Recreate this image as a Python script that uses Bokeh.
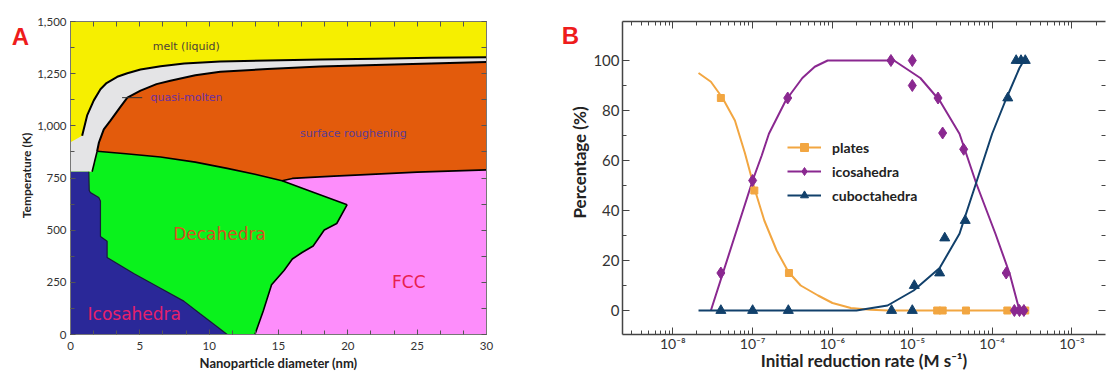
import math
from bokeh.plotting import figure
from bokeh.models import (Range1d, FixedTicker, LinearAxis, LogAxis, Label, Legend,
                          LegendItem, CustomJSTickFormatter, NumeralTickFormatter,
                          CustomLabelingPolicy)
from bokeh.core.properties import value
from bokeh.layouts import row
from bokeh.embed import file_html
from bokeh.resources import INLINE

# ---------------- Panel A data (phase boundaries, x in nm, T in K) ----------------
gray_edge_x = [0.0, 0.84]
gray_edge_T = [921, 952]

melt_x = [0.84, 1.2, 1.68, 2.16, 2.6, 3.37, 4.1, 5.05, 6.5, 8.2, 10.8, 14.2, 18.0, 22.0, 26.0, 30.0]
melt_T = [952, 1050, 1122, 1175, 1205, 1235, 1252, 1270, 1286, 1299, 1308, 1313, 1318, 1322, 1326, 1329]

quasi_x = [1.92, 2.05, 2.16, 2.4, 2.88, 3.6, 4.1, 5.05, 6.2, 7.2, 9.0, 10.8, 14.2, 18.0, 22.0, 26.0, 30.0]
quasi_T = [878, 920, 940, 983, 1025, 1091, 1135, 1169, 1200, 1216, 1242, 1259, 1272, 1284, 1292, 1299, 1306]

green_top_x = [1.92, 4.0, 6.49, 9.0, 11.3, 13.3, 15.26, 17.5, 19.95]
green_top_T = [878, 866, 851, 826, 796, 768, 737, 682, 622]

green_right_x = [19.95, 19.2, 18.3, 17.5, 16.7, 16.0, 15.4, 14.5, 13.9, 13.3]
green_right_T = [622, 532, 501, 424, 393, 362, 307, 238, 113, 0]

green_left_x = [1.92, 1.56]
green_left_T = [878, 780]

fcc_top_x = [15.26, 16.0, 17.3, 19.0, 20.9, 25.0, 30.0]
fcc_top_T = [737, 748, 753, 759, 765, 778, 789]

ico_x = [0.0, 1.32, 1.35, 1.44, 2.04, 2.16, 2.16, 2.64, 2.64, 4.56, 6.49, 8.17, 9.37, 10.6, 11.3]
ico_T = [780, 780, 690, 680, 657, 640, 470, 447, 369, 292, 222, 160, 98, 36, 0]

pointer_x = [3.72, 5.17]
pointer_T = [1135, 1135]

a_xticks = [0, 5, 10, 15, 20, 25, 30]
a_xminor = [i * 5.0 / 3.0 for i in range(19)]
a_yticks = [0, 250, 500, 750, 1000, 1250, 1500]
a_yminor = [i * 125 for i in range(13)]

# ---------------- Panel B data ----------------
plates_x = [4e-8, 1.05e-7, 2.85e-7, 2.05e-5, 2.4e-5, 4.7e-5, 1.55e-4, 2.6e-4]
plates_y = [85, 48, 15, 0, 0, 0, 0, 0]
plates_fit_x = [2.1e-8, 3e-8, 4.2e-8, 6e-8, 8e-8, 1.05e-7, 1.4e-7, 2e-7, 2.8e-7, 4e-7,
                6.6e-7, 1e-6, 1.7e-6, 3e-6, 5e-6, 2.7e-4]
plates_fit_y = [95, 91.5, 85, 76, 63, 49, 36, 24, 15.5, 10, 6, 3, 1, 0.3, 0, 0]

ico_pts_x = [4e-8, 1e-7, 2.75e-7, 5.4e-6, 1e-5, 1e-5, 2.1e-5, 2.4e-5, 4.4e-5, 1.5e-4,
             1.9e-4, 2.2e-4, 2.5e-4]
ico_pts_y = [15, 52, 85, 100, 100, 90, 85, 71, 64.5, 15, 0, 0, 0]
ico_fit_x = [3e-8, 1e-7, 1.3e-7, 1.6e-7, 2.6e-7, 4.2e-7, 6e-7, 8.7e-7, 5.9e-6, 1.26e-5,
             2.2e-5, 3.9e-5, 6.3e-5, 1.1e-4, 1.66e-4, 2.2e-4]
ico_fit_y = [0, 52, 62, 70.7, 84, 93, 97.5, 100, 100, 93, 84, 70.7, 51, 30.7, 14.7, 0]

cubo_x = [4e-8, 1e-7, 2.8e-7, 5.5e-6, 1e-5, 1.06e-5, 2.2e-5, 2.55e-5, 4.6e-5, 1.57e-4,
          2e-4, 2.3e-4, 2.6e-4]
cubo_y = [0, 0, 0, 0, 0, 10, 15, 29, 36, 85, 100, 100, 100]
cubo_fit_x = [2.1e-8, 1e-6, 2e-6, 4.9e-6, 1.04e-5, 2.2e-5, 3.9e-5, 6.3e-5, 1e-4, 1.47e-4,
              2.2e-4, 2.5e-4]
cubo_fit_y = [0, 0, 0, 2, 8, 17, 30.7, 51, 70.7, 84, 97, 100]

b_xticks = [1e-8, 1e-7, 1e-6, 1e-5, 1e-4, 1e-3]
b_xminor = [k * 10.0 ** n for n in range(-9, -2) for k in range(2, 10)]
b_yticks = [0, 20, 40, 60, 80, 100]
b_yminor = [10, 30, 50, 70, 90]

NO_LABELS = "for (const i of indices) { indices.unset(i) }\nreturn indices"
H = 374
TOP = 21      # shared frame top border (px)
BOT = 40      # shared frame bottom border (px)


def side_strip(w):
    # strip whose (aligned) frame maps y = H - page_y
    s = figure(width=w, height=H, x_range=Range1d(0, w), y_range=Range1d(BOT, H - TOP),
               x_axis_location=None, y_axis_location=None, min_border_left=0,
               min_border_right=0, min_border_top=TOP, min_border_bottom=BOT,
               output_backend="svg", toolbar_location=None)
    s.outline_line_color = None
    s.grid.visible = False
    return s


# ---------------- strip left of panel A: panel letter + y title ----------------
sA = side_strip(34)
sA.text(x=[20], y=[H - 36], text=["A"], text_font=value("Liberation Sans"),
        text_font_size=value("24px"), text_font_style="bold", text_color="#ee1c1c",
        text_align="center", text_baseline="middle")
sA.text(x=[26], y=[H - 175], text=["Temperature (K)"], angle=math.pi / 2,
        text_font=value("Lato"), text_font_size=value("12px"), text_font_style="bold",
        text_color="#222222", text_align="center", text_baseline="middle")

# ---------------- Panel A ----------------
YELLOW = "#f6ef00"
GRAY = "#e4e4e6"
ORANGE = "#e35b0c"
PINK = "#fd8dfb"
GREEN = "#0af21c"
BLUE = "#2a2898"

pA = figure(width=494, height=H, x_range=Range1d(0, 30), y_range=Range1d(0, 1500),
            output_backend="svg", toolbar_location=None,
            min_border_left=36, min_border_right=42, min_border_top=TOP, min_border_bottom=BOT)
xaA = pA.xaxis[0]
yaA = pA.yaxis[0]
pA.background_fill_color = YELLOW
pA.outline_line_color = "#777777"
pA.grid.visible = False

gx = gray_edge_x + melt_x[1:] + quasi_x[::-1] + [1.56, 0.0]
gT = gray_edge_T + melt_T[1:] + quasi_T[::-1] + [780, 780]
pA.patch(gx, gT, fill_color=GRAY, line_color=None)
ox = quasi_x + fcc_top_x[::-1] + green_top_x[:7][::-1]
oT = quasi_T + fcc_top_T[::-1] + green_top_T[:7][::-1]
pA.patch(ox, oT, fill_color=ORANGE, line_color=None)
px_ = fcc_top_x + [30.0] + green_right_x[::-1] + green_top_x[6:][::-1]
pT_ = fcc_top_T + [0] + green_right_T[::-1] + green_top_T[6:][::-1]
pA.patch(px_, pT_, fill_color=PINK, line_color=None)
dx = green_top_x + green_right_x[1:] + [0.0, 0.0, 1.56]
dT = green_top_T + green_right_T[1:] + [0, 780, 780]
pA.patch(dx, dT, fill_color=GREEN, line_color=None)
pA.patch(ico_x + [0.0], ico_T + [0], fill_color=BLUE, line_color=None)

pA.line(melt_x, melt_T, line_color="black", line_width=2)
pA.line(quasi_x, quasi_T, line_color="black", line_width=2)
pA.line(green_top_x, green_top_T, line_color="black", line_width=1.6)
pA.line(green_right_x, green_right_T, line_color="black", line_width=1.6)
pA.line(fcc_top_x, fcc_top_T, line_color="black", line_width=1.6)
pA.line(green_left_x, green_left_T, line_color="black", line_width=1.6)
pA.line(ico_x[1:], ico_T[1:], line_color="#1a1a3a", line_width=1.2)
pA.line(pointer_x, pointer_T, line_color="#333333", line_width=1)

region_labels = [
    ("melt (liquid)", 8.35, 1379, "11px", "#4d4535", "center"),
    ("quasi-molten", 5.77, 1135, "11px", "#6b2fa0", "left"),
    ("surface roughening", 20.4, 964, "11px", "#5b3b94", "center"),
    ("Decahedra", 10.75, 483, "17px", "#d9501f", "center"),
    ("Icosahedra", 4.6, 98, "17px", "#e6206a", "center"),
    ("FCC", 24.4, 253, "17px", "#e8204e", "center"),
]
for txt, x, y, fs, col, al in region_labels:
    pA.add_layout(Label(x=x, y=y, text=txt, text_font="DejaVu Sans", text_font_size=fs,
                        text_color=col, text_align=al, text_baseline="middle"))

xaA.ticker = FixedTicker(ticks=a_xticks, minor_ticks=a_xminor)
yaA.ticker = FixedTicker(ticks=a_yticks, minor_ticks=a_yminor)
yaA.formatter = NumeralTickFormatter(format="0,0")
xaA.axis_label = "Nanoparticle diameter (nm)"

topA = LinearAxis(ticker=FixedTicker(ticks=a_xminor, minor_ticks=[]),
                  major_label_policy=CustomLabelingPolicy(code=NO_LABELS),
                  major_label_text_font_size="1px", major_label_standoff=0)
rightA = LinearAxis(ticker=FixedTicker(ticks=a_yminor, minor_ticks=[]),
                    major_label_policy=CustomLabelingPolicy(code=NO_LABELS),
                    major_label_text_font_size="1px", major_label_standoff=0)
pA.add_layout(topA, "above")
pA.add_layout(rightA, "right")
for ax in [xaA, yaA, topA, rightA]:
    ax.axis_line_color = "#777777"
    ax.major_tick_line_color = "#555555"
    ax.minor_tick_line_color = "#555555"
    ax.major_tick_out = 0
    ax.major_tick_in = 5
    ax.minor_tick_out = 0
    ax.minor_tick_in = 4
    ax.major_label_text_font = "Lato"
    ax.major_label_text_color = "#333333"
    ax.axis_label_text_font = "Lato"
    ax.axis_label_text_font_style = "bold"
    ax.axis_label_text_font_size = "13px"
    ax.axis_label_text_color = "#222222"
xaA.major_label_text_font_size = "11.5px"
yaA.major_label_text_font_size = "11.5px"
xaA.major_label_standoff = 7
xaA.axis_label_standoff = 2
yaA.major_label_standoff = 4

# ---------------- strip left of panel B: panel letter + y title ----------------
sB = side_strip(62)
sB.text(x=[42], y=[H - 35], text=["B"], text_font=value("Liberation Sans"),
        text_font_size=value("24px"), text_font_style="bold", text_color="#ee1c1c",
        text_align="center", text_baseline="middle")
sB.text(x=[51], y=[H - 162], text=["Percentage (%)"], angle=math.pi / 2,
        text_font=value("Lato"), text_font_size=value("17px"), text_font_style="bold",
        text_color="#222222", text_align="center", text_baseline="middle")

# ---------------- Panel B ----------------
C_PL = "#f2a641"
C_IC = "#8a2890"
C_CU = "#11406b"

pB = figure(width=520, height=H, x_axis_type="log",
            x_range=Range1d(10 ** -8.63, 10 ** -2.58), y_range=Range1d(-9.6, 115.6),
            output_backend="svg", toolbar_location=None,
            min_border_left=28, min_border_right=2, min_border_top=TOP, min_border_bottom=BOT)
xaB = pB.xaxis[0]
yaB = pB.yaxis[0]
pB.outline_line_color = None
pB.grid.visible = False

r1l = pB.line(plates_fit_x, plates_fit_y, line_color=C_PL, line_width=2)
r2l = pB.line(ico_fit_x, ico_fit_y, line_color=C_IC, line_width=2)
r3l = pB.line(cubo_fit_x, cubo_fit_y, line_color=C_CU, line_width=2)
r1p = pB.scatter(plates_x, plates_y, marker="square", size=7, color=C_PL)
r3p = pB.scatter(cubo_x, cubo_y, marker="triangle", size=10, color=C_CU)
r2p = pB.scatter(ico_pts_x, ico_pts_y, marker="diamond", size=12, color=C_IC)

legend = Legend(items=[LegendItem(label="plates", renderers=[r1l, r1p]),
                       LegendItem(label="icosahedra", renderers=[r2l, r2p]),
                       LegendItem(label="cuboctahedra", renderers=[r3l, r3p])],
                location=(165, 129), padding=0, margin=0, border_line_color=None,
                background_fill_alpha=0, glyph_width=34, glyph_height=20, label_height=20,
                spacing=4, label_standoff=11, label_text_font="Lato",
                label_text_font_style="bold", label_text_font_size="14px",
                label_text_color="#222222")
pB.add_layout(legend)

sup_js = """
const e = Math.round(Math.log10(tick));
const m = {'-':'\\u207B','0':'\\u2070','1':'\\u00B9','2':'\\u00B2','3':'\\u00B3','4':'\\u2074',
           '5':'\\u2075','6':'\\u2076','7':'\\u2077','8':'\\u2078','9':'\\u2079'};
return '10' + String(e).split('').map(c => m[c]).join('');
"""
xaB.ticker = FixedTicker(ticks=b_xticks, minor_ticks=b_xminor)
xaB.formatter = CustomJSTickFormatter(code=sup_js)
yaB.ticker = FixedTicker(ticks=b_yticks, minor_ticks=b_yminor)
xaB.axis_label = "Initial reduction rate (M s\u207B\u00B9)"

topB = LogAxis(ticker=FixedTicker(ticks=b_xticks, minor_ticks=b_xminor),
               major_label_policy=CustomLabelingPolicy(code=NO_LABELS),
               major_label_text_font_size="1px", major_label_standoff=0)
rightB = LinearAxis(ticker=FixedTicker(ticks=b_yticks, minor_ticks=b_yminor),
                    major_label_policy=CustomLabelingPolicy(code=NO_LABELS),
                    major_label_text_font_size="1px", major_label_standoff=0)
pB.add_layout(topB, "above")
pB.add_layout(rightB, "right")
for ax in [xaB, yaB, topB, rightB]:
    ax.axis_line_color = "#444444"
    ax.axis_line_width = 1.5
    ax.major_tick_line_color = "#444444"
    ax.minor_tick_line_color = "#444444"
    ax.major_tick_out = 0
    ax.major_tick_in = 7
    ax.minor_tick_out = 0
    ax.minor_tick_in = 4
    ax.major_label_text_font = "Lato"
    ax.major_label_text_color = "#333333"
    ax.axis_label_text_font = "Lato"
    ax.axis_label_text_font_style = "bold"
    ax.axis_label_text_color = "#222222"
rightB.axis_line_color = None
xaB.major_label_text_font_size = "14px"
yaB.major_label_text_font_size = "15px"
xaB.axis_label_text_font_size = "17px"
xaB.major_label_standoff = 0
yaB.major_label_standoff = 3
xaB.axis_label_standoff = -5

layout = row(sA, pA, sB, pB)
open("out.html", "w").write(file_html(layout, INLINE))
